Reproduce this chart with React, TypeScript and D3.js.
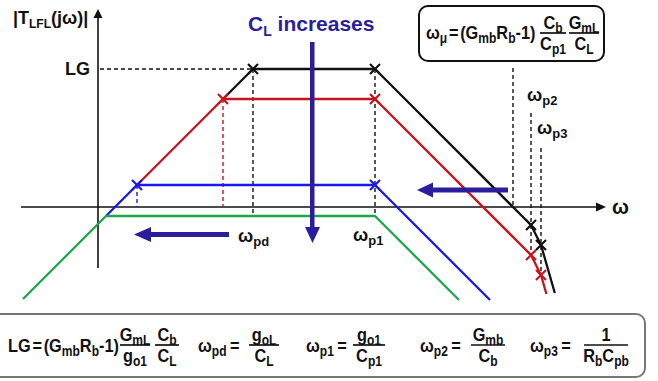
import React from "react";
import * as d3 from "d3";

const W = 658;
const H = 381;

// x: log10(ω) in decades, y: |T_LFL| in dB (Bode asymptotes)
const seriesColors = ["#111111", "#c8141e", "#1a1ae6", "#1ea64b"]; // C_L small -> large
const lgDb = [69, 54, 11, -4.5];
const wpdLog = [3.875, 3.125, 0.975, 0.2];
const wp1Log = 6.925;
const wp2Log = 10.825;
const wp3Log = 11.075;
const wmuLog = 10.375;

const blackPts: [number, number][] = [[3.125, 54], [3.875, 69], [6.925, 69], [10.825, -9], [11.075, -19], [11.42, -43]];
const redPts: [number, number][] = [[0.975, 11], [3.125, 54], [6.925, 54], [10.825, -24], [11.075, -34], [11.21, -43.5]];
const bluePts: [number, number][] = [[0.2, -4.5], [0.975, 11], [6.925, 11], [9.8, -46.5]];
const greenPts: [number, number][] = [[-1.875, -46], [0.2, -4.5], [6.925, -4.5], [9.025, -46.5]];

const blackMarks: [number, number][] = [[3.875, 69], [6.925, 69], [10.825, -9], [11.075, -19]];
const redMarks: [number, number][] = [[3.125, 54], [6.925, 54], [10.825, -24], [11.075, -34]];
const blueMarks: [number, number][] = [[0.975, 11], [6.925, 11]];

// dashed guides: [x1, y1, x2, y2, colorIndex]
const guides: [number, number, number, number, number][] = [
  [0.05, lgDb[0], wpdLog[0], lgDb[0], 0],
  [wpdLog[0], lgDb[0], wpdLog[0], lgDb[3], 0],
  [wpdLog[1], lgDb[1], wpdLog[1], 0, 1],
  [wpdLog[2], lgDb[2], wpdLog[2], 0, 2],
  [wp1Log, lgDb[0], wp1Log, lgDb[3], 0],
  [wmuLog, 69.5, wmuLog, 0, 0],
  [wp2Log, 47, wp2Log, -24, 0],
  [wp3Log, 29.5, wp3Log, -34, 0],
];

const FONT = "'Liberation Sans', Arial, sans-serif";
const NAVY = "#2b1d9c";

type Run = [string, boolean?, number?];

function Rich({ x, y, runs, size = 19, subSize = 14, anchor = "start", fill = "#111", sx = 1 }: any) {
  let shifted = false;
  const kids = (runs as Run[]).map(([t, sub, dx], i) => {
    if (sub) {
      const el = (
        <tspan key={i} fontSize={subSize} dx={dx || 0} dy={shifted ? 0 : size * 0.22}>
          {t}
        </tspan>
      );
      shifted = true;
      return el;
    }
    const el = (
      <tspan key={i} fontSize={size} dx={dx || 0} dy={shifted ? -size * 0.22 : 0}>
        {t}
      </tspan>
    );
    shifted = false;
    return el;
  });
  return (
    <text
      transform={`translate(${x},${y}) scale(${sx},1)`}
      textAnchor={anchor}
      fontFamily={FONT}
      fontWeight="bold"
      fontSize={size}
      fill={fill}
    >
      {kids}
    </text>
  );
}

function Frac({ cx, y, w, num, den, size = 19, subSize = 14, sx = 0.86 }: any) {
  return (
    <g>
      <line x1={cx - w / 2} x2={cx + w / 2} y1={y} y2={y} stroke="#111" strokeWidth={1.7} />
      <Rich x={cx} y={y - 4} runs={num} size={size} subSize={subSize} anchor="middle" sx={sx} />
      <Rich x={cx} y={y + size * 0.88} runs={den} size={size} subSize={subSize} anchor="middle" sx={sx} />
    </g>
  );
}

export default function App() {
  const x = d3.scaleLinear().domain([-2, 13]).range([18, 618]);
  const y = d3.scaleLinear().domain([0, 100]).range([207, 7]);
  const line = d3
    .line<[number, number]>()
    .x((d) => x(d[0]))
    .y((d) => y(d[1]));

  const series = [blackPts, redPts, bluePts, greenPts];
  const marks = [blackMarks, redMarks, blueMarks];

  const x0 = x(0);
  const y0 = y(0);
  const sx = 0.86;

  return (
    <svg width={W} height={H} style={{ position: "absolute", left: 0, top: 0, background: "#fff" }}>
      <rect width={W} height={H} fill="#fff" />

      {/* axes */}
      <line x1={x0} x2={x0} y1={y(-30.5)} y2={y(95)} stroke="#111" strokeWidth={1.6} />
      <polygon points={`${x0},${y(99)} ${x0 - 4.5},${y(94.5)} ${x0 + 4.5},${y(94.5)}`} fill="#111" />
      <line x1={x(-1.925)} x2={x(12.5)} y1={y0} y2={y0} stroke="#111" strokeWidth={1.6} />
      <polygon points={`${x(12.7)},${y0} ${x(12.45)},${y0 - 4.5} ${x(12.45)},${y0 + 4.5}`} fill="#111" />

      {/* dashed guides */}
      {guides.map((g, i) => (
        <line
          key={i}
          x1={x(g[0])}
          y1={y(g[1])}
          x2={x(g[2])}
          y2={y(g[3])}
          stroke={seriesColors[g[4]]}
          strokeWidth={1.4}
          strokeDasharray="4,3"
        />
      ))}

      {/* curves */}
      {series.map((pts, i) => (
        <path key={i} d={line(pts) || ""} fill="none" stroke={seriesColors[i]} strokeWidth={2.3} strokeLinejoin="round" />
      ))}

      {/* corner markers */}
      {marks.map((ms, i) =>
        ms.map((m, j) => (
          <path
            key={`${i}-${j}`}
            d={`M${x(m[0]) - 5},${y(m[1]) - 5}L${x(m[0]) + 5},${y(m[1]) + 5}M${x(m[0]) - 5},${y(m[1]) + 5}L${x(m[0]) + 5},${y(m[1]) - 5}`}
            stroke={seriesColors[i]}
            strokeWidth={2.2}
          />
        ))
      )}

      {/* navy arrows */}
      <rect x={310} y={42} width={4.5} height={186} fill={NAVY} />
      <polygon points="305,227 320,227 312.5,243" fill={NAVY} />
      <rect x={150} y={232} width={79} height={5} fill={NAVY} />
      <polygon points="134,234.5 151,227 151,242" fill={NAVY} />
      <rect x={432} y={187.5} width={76} height={5} fill={NAVY} />
      <polygon points="417,190 433,182.5 433,197.5" fill={NAVY} />

      {/* labels */}
      <Rich x={13} y={24} runs={[["|T"], ["LFL", true], ["(jω)|"]]} size={18} subSize={12} />
      <Rich x={90} y={75} runs={[["LG"]]} size={18} anchor="end" />
      <Rich x={248} y={31} runs={[["C"], ["L", true], [" increases"]]} size={21} subSize={14} fill={NAVY} />
      <Rich x={612} y={214} runs={[["ω"]]} size={20} />
      <Rich x={238} y={242} runs={[["ω"], ["pd", true]]} size={18} subSize={13} />
      <Rich x={353} y={241} runs={[["ω"], ["p1", true]]} size={18} subSize={13} />
      <Rich x={527} y={101} runs={[["ω"], ["p2", true]]} size={18} subSize={13} />
      <Rich x={537} y={134} runs={[["ω"], ["p3", true]]} size={18} subSize={13} />

      {/* top-right formula box */}
      <rect x={419} y={6} width={185} height={55} rx={9} fill="#fff" stroke="#111" strokeWidth={2} />
      <Rich x={426} y={39} runs={[["ω"], ["μ", true], ["=", false, 2], ["(G", false, 2], ["mb", true], ["R"], ["b", true], ["-1)"]]} sx={sx} />
      <Frac cx={553} y={33} w={26} num={[["C"], ["b", true]]} den={[["C"], ["p1", true]]} />
      <Frac cx={584} y={33} w={30} num={[["G"], ["mL", true]]} den={[["C"], ["L", true]]} />

      {/* bottom formula box */}
      <rect x={-8} y={314} width={653} height={63} rx={9} fill="#fff" stroke="#777" strokeWidth={2} />
      <Rich x={8} y={352} runs={[["LG"], ["=", false, 2], ["(G", false, 2], ["mb", true], ["R"], ["b", true], ["-1)"]]} sx={sx} />
      <Frac cx={135} y={345} w={30} num={[["G"], ["mL", true]]} den={[["g"], ["o1", true]]} />
      <Frac cx={167} y={345} w={24} num={[["C"], ["b", true]]} den={[["C"], ["L", true]]} />
      <Rich x={198} y={352} runs={[["ω"], ["pd", true], ["=", false, 4]]} sx={sx} />
      <Frac cx={264} y={345} w={30} num={[["g"], ["oL", true]]} den={[["C"], ["L", true]]} />
      <Rich x={306} y={352} runs={[["ω"], ["p1", true], ["=", false, 4]]} sx={sx} />
      <Frac cx={369} y={345} w={32} num={[["g"], ["o1", true]]} den={[["C"], ["p1", true]]} />
      <Rich x={420} y={352} runs={[["ω"], ["p2", true], ["=", false, 4]]} sx={sx} />
      <Frac cx={488} y={345} w={34} num={[["G"], ["mb", true]]} den={[["C"], ["b", true]]} />
      <Rich x={530} y={352} runs={[["ω"], ["p3", true], ["=", false, 4]]} sx={sx} />
      <Frac cx={606} y={345} w={44} num={[["1"]]} den={[["R"], ["b", true], ["C"], ["pb", true]]} />
    </svg>
  );
}
